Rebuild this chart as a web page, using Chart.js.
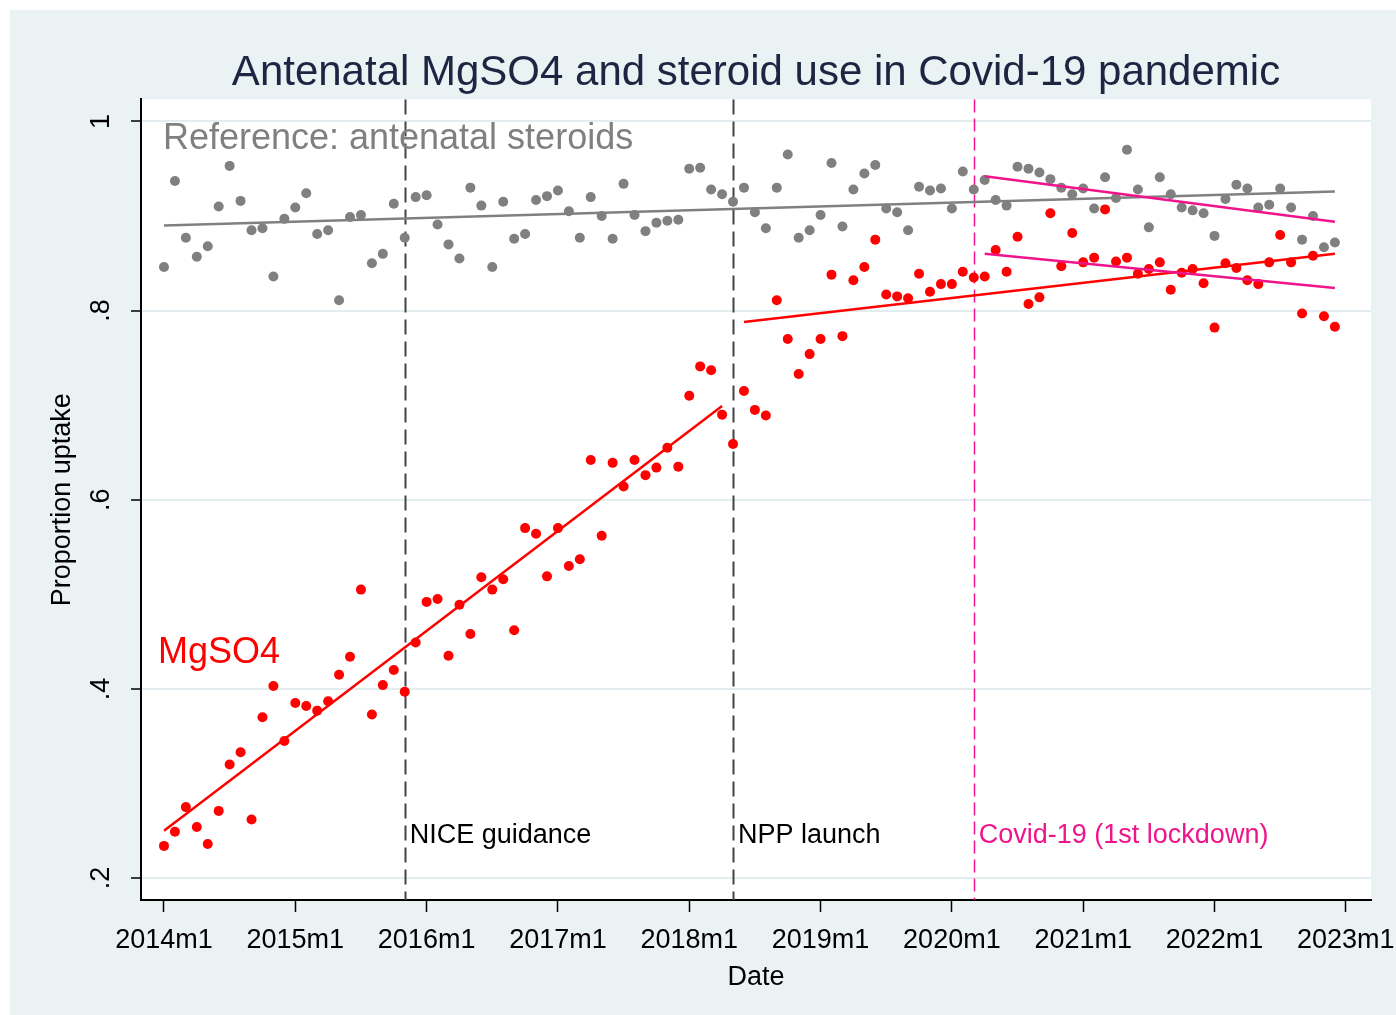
<!DOCTYPE html>
<html>
<head>
<meta charset="utf-8">
<script src="https://cdn.jsdelivr.net/npm/chart.js@4"></script>
<style>
  html, body { margin: 0; padding: 0; background: #ffffff; }
  canvas { display: block; }
</style>
</head>
<body>
<canvas id="uptakeChart" width="1396" height="1015"></canvas>
<script>
// months counted from 2014m1 (0) to 2022m12 (107)
var steroids = [
  0.846, 0.937, 0.877, 0.857, 0.868, 0.910, 0.953, 0.916, 0.885, 0.887, 0.836, 0.897,
  0.909, 0.924, 0.881, 0.885, 0.811, 0.899, 0.901, 0.850, 0.860, 0.913, 0.877, 0.920,
  0.922, 0.891, 0.870, 0.855, 0.930, 0.911, 0.846, 0.915, 0.876, 0.881, 0.917, 0.921,
  0.927, 0.905, 0.877, 0.920, 0.900, 0.876, 0.934, 0.901, 0.884, 0.893, 0.895, 0.896,
  0.950, 0.951, 0.928, 0.923, 0.915, 0.930, 0.904, 0.887, 0.930, 0.965, 0.877, 0.885,
  0.901, 0.956, 0.889, 0.928, 0.945, 0.954, 0.908, 0.904, 0.885, 0.931, 0.927, 0.929,
  0.908, 0.947, 0.928, 0.938, 0.917, 0.911, 0.952, 0.950, 0.946, 0.939, 0.930, 0.923,
  0.929, 0.908, 0.941, 0.919, 0.970, 0.928, 0.888, 0.941, 0.923, 0.909, 0.906, 0.903,
  0.879, 0.918, 0.933, 0.929, 0.909, 0.912, 0.929, 0.909, 0.875, 0.900, 0.867, 0.872
];
var mgso4 = [
  0.234, 0.249, 0.275, 0.254, 0.236, 0.271, 0.320, 0.333, 0.262, 0.370, 0.403, 0.345,
  0.385, 0.382, 0.377, 0.387, 0.415, 0.434, 0.505, 0.373, 0.404, 0.420, 0.397, 0.449,
  0.492, 0.495, 0.435, 0.489, 0.458, 0.518, 0.505, 0.516, 0.462, 0.570, 0.564, 0.519,
  0.570, 0.530, 0.537, 0.642, 0.562, 0.639, 0.614, 0.642, 0.626, 0.634, 0.655, 0.635,
  0.710, 0.741, 0.737, 0.690, 0.659, 0.715, 0.695, 0.689, 0.811, 0.770, 0.733, 0.754,
  0.770, 0.838, 0.773, 0.832, 0.846, 0.875, 0.817, 0.815, 0.813, 0.839, 0.820, 0.828,
  0.828, 0.841, 0.835, 0.836, 0.864, 0.841, 0.878, 0.807, 0.814, 0.903, 0.847, 0.882,
  0.851, 0.856, 0.907, 0.852, 0.856, 0.839, 0.844, 0.851, 0.822, 0.840, 0.844, 0.829,
  0.782, 0.850, 0.845, 0.832, 0.828, 0.851, 0.880, 0.851, 0.797, 0.858, 0.794, 0.783
];

// fitted lines, read as end points [month, value]
var steroidTrend = [[0, 0.890], [107, 0.926]];
var mgPreTrend = [[0, 0.250], [51, 0.699]];
var mgPostTrend = [[53, 0.788], [107, 0.860]];
var steroidCovidTrend = [[75, 0.942], [107, 0.894]];
var mgCovidTrend = [[75, 0.860], [107, 0.824]];

var eventMonths = [22, 52, 74];
var eventLabels = ['NICE guidance', 'NPP launch', 'Covid-19 (1st lockdown)'];

var xTickMonths = [0, 12, 24, 36, 48, 60, 72, 84, 96, 108];
var xTickLabels = ['2014m1', '2015m1', '2016m1', '2017m1', '2018m1', '2019m1', '2020m1', '2021m1', '2022m1', '2023m1'];
var yTickValues = [0.2, 0.4, 0.6, 0.8, 1];
var yTickLabels = ['.2', '.4', '.6', '.8', '1'];

var FONT = '"Liberation Sans", Arial, sans-serif';
var grey = 'rgb(128, 128, 128)';
var red = 'rgb(255, 0, 0)';
var pink = 'rgb(240, 20, 140)';

function toPoints(values) {
  return values.map(function (v, i) { return {x: i, y: v}; });
}
function toLine(pairs) {
  return pairs.map(function (p) { return {x: p[0], y: p[1]}; });
}
function lineSet(pairs, color) {
  return {
    data: toLine(pairs), showLine: true, borderColor: color, borderWidth: 2.5,
    pointRadius: 0, pointHoverRadius: 0, fill: false
  };
}
function dotSet(values, color) {
  return {
    data: toPoints(values), showLine: false, pointRadius: 5, pointHoverRadius: 5,
    pointBorderWidth: 0, pointBackgroundColor: color, backgroundColor: color, borderColor: color
  };
}

var stataLook = {
  id: 'stataLook',
  beforeDraw: function (chart) {
    var ctx = chart.ctx, a = chart.chartArea;
    ctx.save();
    ctx.fillStyle = '#eaf2f3';
    ctx.fillRect(10, 10, chart.width - 10, chart.height - 10);
    ctx.fillStyle = '#ffffff';
    ctx.fillRect(a.left, a.top, a.right - a.left, a.bottom - a.top);
    ctx.restore();
  },
  beforeDatasetsDraw: function (chart) {
    var ctx = chart.ctx, a = chart.chartArea, xs = chart.scales.x;
    ctx.save();
    eventMonths.forEach(function (m, i) {
      var px = Math.round(xs.getPixelForValue(m)) + 0.5;
      var covid = i == 2;
      ctx.strokeStyle = covid ? pink : '#444444';
      ctx.lineWidth = covid ? 1.5 : 2;
      ctx.setLineDash(covid ? [13, 6] : [15, 7]);
      ctx.beginPath();
      ctx.moveTo(px, a.top);
      ctx.lineTo(px, a.bottom);
      ctx.stroke();
    });
    ctx.restore();
  },
  afterDraw: function (chart) {
    var ctx = chart.ctx, xs = chart.scales.x, ys = chart.scales.y;
    ctx.save();
    // rotated y tick labels
    ctx.font = '27px ' + FONT;
    ctx.fillStyle = '#000000';
    ctx.textAlign = 'center';
    ctx.textBaseline = 'middle';
    yTickValues.forEach(function (v, i) {
      ctx.save();
      ctx.translate(102, ys.getPixelForValue(v));
      ctx.rotate(-Math.PI / 2);
      ctx.fillText(yTickLabels[i], 0, 0);
      ctx.restore();
    });
    // event labels
    ctx.textAlign = 'left';
    eventMonths.forEach(function (m, i) {
      ctx.fillStyle = i == 2 ? pink : '#000000';
      ctx.fillText(eventLabels[i], xs.getPixelForValue(m) + 5, ys.getPixelForValue(0.245));
    });
    // series labels
    ctx.font = '36px ' + FONT;
    ctx.fillStyle = grey;
    ctx.fillText('Reference: antenatal steroids', xs.getPixelForValue(-0.1), ys.getPixelForValue(0.981));
    ctx.fillStyle = red;
    ctx.fillText('MgSO4', xs.getPixelForValue(-0.55), ys.getPixelForValue(0.438));
    ctx.restore();
  }
};

var ctx = document.getElementById('uptakeChart').getContext('2d');
var chart = new Chart(ctx, {
  type: 'scatter',
  data: {
    datasets: [
      lineSet(steroidCovidTrend, pink),
      lineSet(mgCovidTrend, pink),
      lineSet(steroidTrend, grey),
      lineSet(mgPreTrend, red),
      lineSet(mgPostTrend, red),
      dotSet(steroids, grey),
      dotSet(mgso4, red)
    ]
  },
  options: {
    responsive: false,
    animation: false,
    devicePixelRatio: 1,
    layout: { padding: { top: 0, right: 25, bottom: 0, left: 0 } },
    plugins: {
      legend: { display: false },
      tooltip: { enabled: false },
      title: {
        display: true,
        text: 'Antenatal MgSO4 and steroid use in Covid-19 pandemic',
        fullSize: false,
        color: '#1c2541',
        font: { family: FONT, size: 42, weight: 'normal' },
        padding: { top: 48, bottom: 1 }
      }
    },
    scales: {
      x: {
        type: 'linear',
        min: -2.1,
        max: 110.3,
        afterBuildTicks: function (scale) {
          scale.ticks = xTickMonths.map(function (v) { return {value: v}; });
        },
        afterFit: function (scale) {
          scale.height = 115;
          scale.paddingLeft = 0;
          scale.paddingRight = 0;
        },
        ticks: {
          autoSkip: false, maxRotation: 0, minRotation: 0, padding: 12,
          color: '#000000', font: { family: FONT, size: 27 },
          callback: function (value) { return xTickLabels[xTickMonths.indexOf(value)]; }
        },
        grid: { drawOnChartArea: false, drawTicks: true, tickLength: 12, tickColor: '#000000', tickWidth: 1.5 },
        border: { display: true, color: '#000000', width: 2 },
        title: {
          display: true, text: 'Date', color: '#000000',
          font: { family: FONT, size: 27 }, padding: { top: 0, bottom: 21 }
        }
      },
      y: {
        type: 'linear',
        min: 0.1768,
        max: 1.0233,
        afterBuildTicks: function (scale) {
          scale.ticks = yTickValues.map(function (v) { return {value: v}; });
        },
        afterFit: function (scale) { scale.width = 141; },
        ticks: { display: false },
        grid: { color: '#e3edef', lineWidth: 2, drawTicks: true, tickLength: 10, tickColor: '#000000', tickWidth: 1.5 },
        border: { display: true, color: '#000000', width: 2 },
        title: {
          display: true, text: 'Proportion uptake', color: '#000000',
          font: { family: FONT, size: 27 }, padding: { top: 46, bottom: 0 }
        }
      }
    }
  },
  plugins: [stataLook]
});
</script>
</body>
</html>
